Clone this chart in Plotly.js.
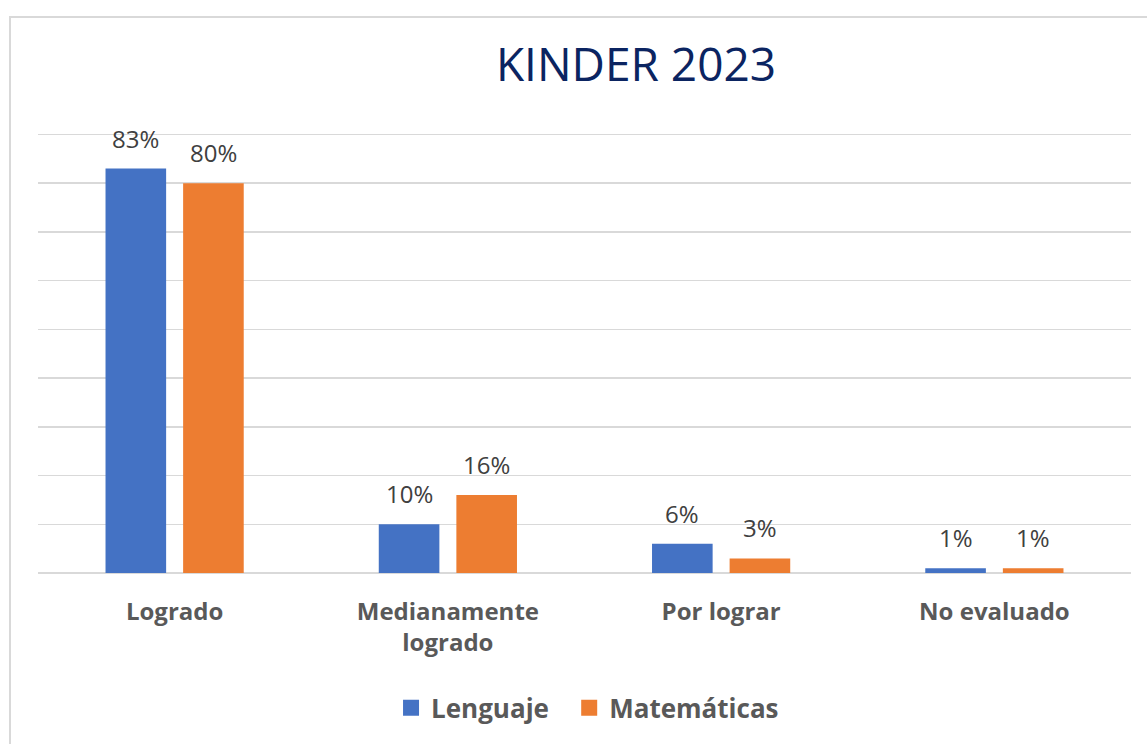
<!DOCTYPE html>
<html>
<head>
<meta charset="utf-8">
<script src="https://cdn.plot.ly/plotly-3.0.1.min.js"></script>
<style>
  html, body { margin: 0; padding: 0; background: #ffffff; overflow: hidden; }
  #frame { position: absolute; left: 9px; top: 16px; width: 1200px; height: 800px;
           border: 2px solid #d9d9d9; box-sizing: border-box; }
  #chart { position: absolute; left: 0; top: 0; width: 1147px; height: 744px; }
</style>
</head>
<body>
<div id="frame"></div>
<div id="chart"></div>
<script>
const categories = ["Logrado", "Medianamente<br>logrado", "Por lograr", "No evaluado"];
const lenguaje = [0.83, 0.10, 0.06, 0.01];
const matematicas = [0.80, 0.16, 0.03, 0.01];
const seriesNames = ["Lenguaje", "Matemáticas"];
const yTicks = [0, 0.1, 0.2, 0.3, 0.4, 0.5, 0.6, 0.7, 0.8, 0.9];

const FONT = "'Open Sans', 'Noto Sans', sans-serif";
const colors = ["#4472C4", "#ED7D31"];
const BARGAP = 0.432;
const GROUPGAP = 0.219;

function barTrace(name, vals, color) {
  return {
    type: "bar",
    name: name,
    x: categories,
    y: vals,
    marker: { color: color },
    hoverinfo: "skip",
    showlegend: false
  };
}
function legendTrace(name, color, legendId) {
  return {
    type: "scatter",
    mode: "markers",
    name: name,
    x: [categories[0]],
    y: [null],
    marker: { symbol: "square", size: 18, color: color },
    showlegend: true,
    legend: legendId,
    hoverinfo: "skip"
  };
}

const data = [
  barTrace(seriesNames[0], lenguaje, colors[0]),
  barTrace(seriesNames[1], matematicas, colors[1]),
  legendTrace(seriesNames[0], colors[0], "legend"),
  legendTrace(seriesNames[1], colors[1], "legend2")
];

// value labels placed above each bar of the group (offset = quarter of group width)
const groupWidth = 1 - BARGAP;
const annotations = [];
[lenguaje, matematicas].forEach((vals, s) => {
  const off = (s === 0 ? -1 : 1) * groupWidth / 4;
  vals.forEach((v, i) => {
    annotations.push({
      x: i + off, y: v, xref: "x", yref: "y",
      text: Math.round(v * 100) + "%",
      showarrow: false,
      xanchor: "center", yanchor: "bottom",
      yshift: 12,
      font: { family: FONT, size: 24, color: "#404040" }
    });
  });
});

const legendFont = { family: FONT, size: 26, color: "#595959", weight: "bold" };

const layout = {
  width: 1147,
  height: 744,
  paper_bgcolor: "rgba(0,0,0,0)",
  plot_bgcolor: "rgba(0,0,0,0)",
  margin: { l: 38, r: 16, t: 131.5, b: 169 },
  barmode: "group",
  bargap: BARGAP,
  bargroupgap: GROUPGAP,
  title: {
    text: "KINDER 2023",
    font: { family: FONT, size: 46, color: "#0b2461" },
    x: 0.5545, xanchor: "center",
    y: 0.913, yanchor: "middle", xref: "container", yref: "container"
  },
  xaxis: {
    type: "category",
    showgrid: false,
    showline: false,
    zeroline: false,
    ticks: "",
    ticklabelstandoff: 22,
    tickfont: { family: FONT, size: 24, color: "#595959", weight: "bold" }
  },
  yaxis: {
    range: [0, 0.905],
    tickvals: yTicks,
    showticklabels: false,
    showgrid: true,
    gridcolor: "#d9d9d9",
    gridwidth: 1.5,
    zeroline: true,
    zerolinecolor: "#d9d9d9",
    zerolinewidth: 1.5,
    showline: false,
    ticks: ""
  },
  annotations: annotations,
  legend: {
    orientation: "h",
    x: 0.323, xanchor: "left",
    y: -0.306, yanchor: "middle",
    font: legendFont
  },
  legend2: {
    orientation: "h",
    x: 0.486, xanchor: "left",
    y: -0.306, yanchor: "middle",
    font: legendFont
  },
  showlegend: true
};

Plotly.newPlot("chart", data, layout, { displayModeBar: false, staticPlot: true });
</script>
</body>
</html>
